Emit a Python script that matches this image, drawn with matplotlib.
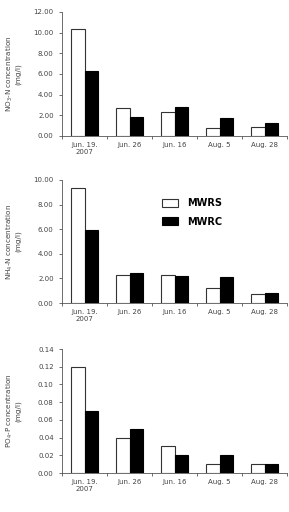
import numpy as np
import matplotlib
matplotlib.use('Agg')
import matplotlib.pyplot as plt

dates = ['Jun. 19.\n2007', 'Jun. 26', 'Jun. 16', 'Aug. 5', 'Aug. 28']
no3_mwrs = [10.35, 2.70, 2.35, 0.75, 0.90]
no3_mwrc = [6.25, 1.85, 2.80, 1.70, 1.25]
nh4_mwrs = [9.35, 2.25, 2.25, 1.20, 0.70]
nh4_mwrc = [5.95, 2.40, 2.20, 2.15, 0.80]
po4_mwrs = [0.12, 0.04, 0.03, 0.01, 0.01]
po4_mwrc = [0.07, 0.05, 0.02, 0.02, 0.01]

panels = [
    (no3_mwrs, no3_mwrc, 'NO$_3$-N concentration\n(mg/l)', 12, 2, '%.2f'),
    (nh4_mwrs, nh4_mwrc, 'NH$_4$-N concentration\n(mg/l)', 10, 2, '%.2f'),
    (po4_mwrs, po4_mwrc, 'PO$_4$-P concentration\n(mg/l)', 0.14, 0.02, '%.2f'),
]

gray = '#555555'
fig = plt.figure(figsize=(2.89, 5.12), dpi=100)
W, H = 289, 512
# axes boxes in pixels: (left, top, bottom)
boxes = [(62, 12, 136), (62, 180, 303), (62, 349, 473)]
right = 287

x = np.arange(len(dates))
w = 0.29
for (s, c, lab, ymax, step, fmt), (l, t, b) in zip(panels, boxes):
    ax = fig.add_axes([l / W, 1 - b / H, (right - l) / W, (b - t) / H])
    ax.bar(x - w / 2, s, w, color='white', edgecolor='#333333', linewidth=0.8, label='MWRS')
    ax.bar(x + w / 2, c, w, color='black', edgecolor='black', linewidth=0.8, label='MWRC')
    ax.set_xlim(-0.5, 4.5)
    ax.set_ylim(0, ymax)
    ticks = np.arange(0, ymax + step / 2, step)
    ax.set_yticks(ticks)
    ax.set_yticklabels([fmt % v for v in ticks])
    ax.set_xticks(x)
    ax.set_xticklabels(dates)
    ax.set_xticks(np.arange(-0.5, 5, 1), minor=True)
    ax.tick_params(axis='x', which='major', length=0, pad=4)
    ax.tick_params(axis='x', which='minor', length=2.5, color=gray, width=0.6)
    ax.tick_params(axis='y', length=2.5, color=gray, width=0.6)
    ax.tick_params(labelsize=5, labelcolor='#444444')
    for sp in ['top', 'right']:
        ax.spines[sp].set_visible(False)
    for sp in ['left', 'bottom']:
        ax.spines[sp].set_color(gray)
        ax.spines[sp].set_linewidth(0.6)
    ax.set_ylabel(lab, fontsize=5.2, color='#444444', linespacing=1.0)
    ax.yaxis.set_label_coords(-0.18, 0.5)
    if lab.startswith('NH'):
        ax.legend(loc='upper left', bbox_to_anchor=(0.427, 0.885), frameon=False,
                  borderaxespad=0, prop={'weight': 'bold', 'size': 7},
                  handlelength=1.6, handleheight=0.9, labelspacing=0.9,
                  handletextpad=1.0)

fig.savefig('out.png', dpi=100)
